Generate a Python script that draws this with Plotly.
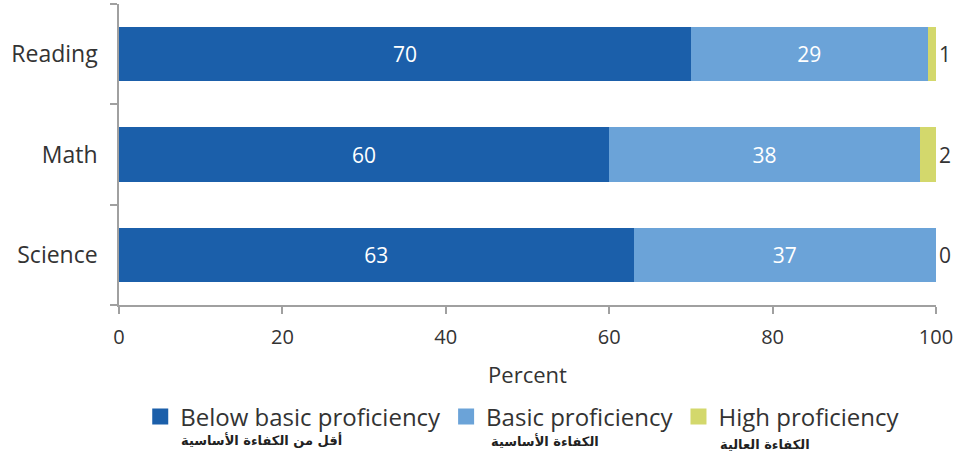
import plotly.graph_objects as go

categories = ["Reading", "Math", "Science"]
below_basic = [70, 60, 63]
basic = [29, 38, 37]
high = [1, 2, 0]
series_names = ["Below basic proficiency", "Basic proficiency", "High proficiency"]
arabic_names = ["أقل من الكفاءة الأساسية", "الكفاءة الأساسية", "الكفاءة العالية"]
colors = ["#1b5faa", "#6ba3d8", "#d3d86c"]
x_ticks = [0, 20, 40, 60, 80, 100]

FONT = "Open Sans"
fig = go.Figure()
for vals, name, col, pos in [(below_basic, series_names[0], colors[0], "inside"),
                             (basic, series_names[1], colors[1], "inside"),
                             (high, series_names[2], colors[2], "outside")]:
    fig.add_trace(go.Bar(
        y=categories, x=vals, name=name, orientation="h",
        marker=dict(color=col, line=dict(width=0)),
        text=[str(v) for v in vals], textposition=pos,
        insidetextanchor="middle",
        insidetextfont=dict(color="white", size=21, family=FONT),
        outsidetextfont=dict(color="#333333", size=21, family=FONT),
        cliponaxis=False, showlegend=False,
    ))
# legend entries with larger square symbols
for name, col in zip(series_names, colors):
    fig.add_trace(go.Scatter(x=[None], y=[None], mode="markers", name=name,
                             marker=dict(symbol="square", size=19, color=col)))

fig.update_layout(
    barmode="stack", bargap=0.46,
    width=960, height=459,
    margin=dict(l=119, r=24, t=4, b=154),
    plot_bgcolor="white", paper_bgcolor="white",
    font=dict(family=FONT, color="#333333", size=18),
    xaxis=dict(range=[0, 100], tickvals=x_ticks, showgrid=False, zeroline=False,
               showline=True, linecolor="#a0a0a0", linewidth=1.5,
               ticks="outside", ticklen=7, tickcolor="#a0a0a0", tickwidth=1.5,
               ticklabelstandoff=6,
               tickfont=dict(size=20, color="#333333"),
               title=dict(text="Percent", font=dict(size=22, color="#333333"), standoff=19)),
    yaxis=dict(categoryorder="array", categoryarray=categories[::-1],
               showgrid=False, zeroline=False, showline=True, linecolor="#a0a0a0", linewidth=1.5,
               ticks="outside", ticklen=7, tickcolor="#a0a0a0", tickwidth=1.5,
               tickson="boundaries", ticklabelstandoff=15,
               tickfont=dict(size=23, color="#333333")),
    legend=dict(orientation="h", x=0.026, xanchor="left", y=-0.297, yanchor="top",
                font=dict(size=24, color="#333333"), traceorder="normal",
                itemsizing="trace"),
    showlegend=True,
)

ar_x = [0.174, 0.521, 0.791]
ar_y = [-0.449, -0.452, -0.462]
for t, ax, ay in zip(arabic_names, ar_x, ar_y):
    fig.add_annotation(text="<b>" + t + "</b>", x=ax, y=ay, xref="paper", yref="paper",
                       showarrow=False, xanchor="center", yanchor="middle",
                       font=dict(family="DejaVu Sans", size=13, color="#222222"))

fig.write_html("out.html")
